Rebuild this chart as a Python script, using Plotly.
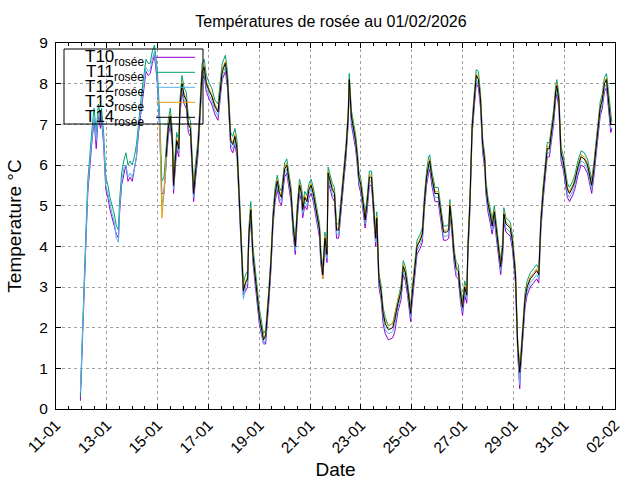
import pandas as pd
import plotly.graph_objects as go

# heures depuis le 11/01/2026 00:00
hours = [
    23, 25, 26, 28, 30, 32, 34, 36, 38, 40,
    42, 43, 45, 47, 49, 51, 53, 55, 57, 59,
    60, 62, 64, 66, 68, 70, 72, 74, 76, 78,
    79, 81, 83, 85, 87, 89, 91, 93, 95, 96,
    98, 100, 102, 104, 106, 108, 110, 111, 113, 114,
    116, 117, 119, 121, 123, 125, 127, 129, 130, 132,
    134, 136, 138, 140, 142, 145, 147, 150, 153, 155,
    157, 160, 162, 164, 165, 167, 169, 171, 173, 175,
    177, 179, 181, 182, 184, 186, 188, 190, 192, 194,
    196, 198, 199, 201, 203, 205, 207, 209, 211, 213,
    215, 216, 218, 220, 222, 224, 226, 228, 230, 232,
    233, 235, 237, 239, 241, 243, 245, 247, 249, 250,
    252, 254, 256, 257, 259, 261, 263, 265, 267, 268,
    270, 272, 274, 276, 277, 279, 281, 283, 285, 286,
    288, 290, 292, 294, 296, 298, 300, 302, 303, 305,
    307, 309, 311, 314, 318, 320, 323, 326, 328, 330,
    332, 335, 336, 338, 341, 344, 346, 348, 350, 352,
    353, 355, 358, 361, 364, 366, 369, 371, 372, 374,
    376, 378, 380, 382, 384, 386, 388, 389, 391, 393,
    395, 397, 399, 401, 403, 405, 406, 408, 410, 412,
    414, 416, 418, 420, 422, 423, 425, 427, 429, 431,
    433, 434, 436, 438, 439, 441, 443, 445, 448, 451,
    454, 456, 458, 460, 462, 464, 466, 468, 470, 472,
    473, 475, 477, 479, 481, 483, 485, 488, 490, 493,
    496, 499, 502, 505, 506, 508, 510, 512, 514, 516,
    518, 520, 522, 524, 525,
]

t10 = [
    0.2, 1.8, 2.8, 3.9, 5.3, 6.0, 6.6, 7.1, 6.4, 7.2,
    6.9, 7.1, 6.5, 5.4, 5.2, 4.9, 4.7, 4.5, 4.3, 4.2,
    4.8, 5.5, 5.8, 6.0, 5.6, 5.7, 5.6, 5.9, 6.2, 6.8,
    7.0, 7.5, 7.9, 8.3, 8.2, 8.25, 8.5, 8.7, 8.2, 7.9,
    6.8, 5.3, 5.3, 6.0, 6.7, 7.0, 6.4, 5.3, 6.2, 6.4,
    6.2, 7.2, 7.8, 7.5, 7.4, 6.8, 6.7, 5.8, 5.1, 5.7,
    6.2, 7.1, 8.1, 8.2, 7.8, 7.6, 7.5, 7.25, 7.1, 7.6,
    8.1, 8.3, 7.9, 6.9, 6.4, 6.3, 6.5, 6.2, 5.1, 3.8,
    2.8, 2.9, 3.0, 4.0, 4.7, 3.6, 3.0, 2.6, 2.1, 1.8,
    1.6, 1.6, 1.9, 2.6, 3.4, 4.5, 5.1, 5.4, 5.1, 5.0,
    5.5, 5.7, 5.8, 5.5, 5.1, 4.3, 3.8, 4.7, 5.3, 5.1,
    4.7, 5.0, 4.9, 5.2, 5.3, 5.1, 4.8, 4.5, 4.2, 3.6,
    3.2, 4.0, 3.6, 5.6, 5.4, 5.2, 5.1, 4.2, 4.2, 4.5,
    5.1, 5.5, 6.2, 7.0, 7.9, 7.0, 6.7, 6.4, 5.9, 5.5,
    5.3, 4.8, 4.45, 4.9, 5.5, 5.5, 4.6, 4.0, 4.5, 3.0,
    2.7, 2.1, 1.85, 1.7, 1.75, 1.9, 2.4, 2.7, 3.3, 3.15,
    2.8, 2.15, 2.5, 3.1, 3.8, 3.95, 4.1, 4.9, 5.5, 5.8,
    5.9, 5.5, 5.1, 5.1, 4.6, 4.15, 4.15, 4.2, 4.8, 4.3,
    3.6, 3.25, 3.2, 2.65, 2.3, 2.8, 2.6, 3.7, 4.9, 6.7,
    7.4, 8.0, 7.9, 7.4, 6.3, 5.9, 5.3, 4.85, 4.6, 4.3,
    4.65, 4.2, 3.8, 3.3, 3.8, 4.6, 4.35, 4.3, 4.25, 3.95,
    3.4, 3.1, 1.4, 0.5, 1.0, 1.9, 2.5, 2.8, 3.0, 3.1,
    3.2, 3.1, 4.4, 5.1, 5.75, 6.2, 6.2, 6.6, 7.0, 7.6,
    7.75, 7.4, 6.1, 5.9, 5.6, 5.2, 5.1, 5.25, 5.4, 5.75,
    6.0, 5.95, 5.8, 5.4, 5.3, 5.7, 6.2, 6.8, 7.2, 7.4,
    7.8, 7.9, 7.4, 6.8, 6.9,
]

t11 = [
    0.3, 2.0, 3.1, 4.2, 5.6, 6.3, 6.9, 7.4, 6.8, 7.5,
    7.2, 7.4, 6.8, 5.7, 5.5, 5.2, 5.0, 4.8, 4.5, 4.4,
    5.1, 5.8, 6.1, 6.3, 6.0, 6.1, 6.0, 6.2, 6.5, 7.1,
    7.3, 7.8, 8.2, 8.6, 8.5, 8.5, 8.8, 8.95, 8.5, 8.2,
    7.2, 5.6, 5.7, 6.4, 7.1, 7.4, 6.8, 5.7, 6.6, 6.8,
    6.6, 7.6, 8.2, 7.9, 7.8, 7.2, 7.1, 6.2, 5.5, 6.1,
    6.6, 7.5, 8.5, 8.6, 8.2, 8.0, 7.9, 7.6, 7.5, 8.0,
    8.5, 8.7, 8.3, 7.3, 6.8, 6.7, 6.9, 6.6, 5.5, 4.2,
    3.1, 3.3, 3.4, 4.4, 5.1, 4.0, 3.4, 3.0, 2.5, 2.2,
    1.85, 1.95, 2.25, 2.95, 3.75, 4.85, 5.45, 5.75, 5.45, 5.35,
    5.85, 6.05, 6.15, 5.85, 5.45, 4.65, 4.15, 5.05, 5.65, 5.45,
    5.05, 5.35, 5.25, 5.55, 5.65, 5.45, 5.15, 4.85, 4.55, 3.95,
    3.45, 4.35, 3.95, 5.95, 5.75, 5.55, 5.45, 4.55, 4.55, 4.85,
    5.45, 5.85, 6.55, 7.35, 8.25, 7.35, 7.05, 6.75, 6.25, 5.85,
    5.65, 5.15, 4.8, 5.25, 5.85, 5.85, 4.95, 4.35, 4.85, 3.35,
    3.05, 2.5, 2.25, 2.05, 2.1, 2.35, 2.75, 3.05, 3.65, 3.5,
    3.15, 2.5, 2.85, 3.45, 4.15, 4.3, 4.45, 5.25, 5.85, 6.2,
    6.25, 5.85, 5.45, 5.45, 4.95, 4.5, 4.5, 4.55, 5.15, 4.65,
    3.95, 3.6, 3.55, 3.0, 2.65, 3.15, 2.95, 4.05, 5.25, 7.05,
    7.75, 8.35, 8.3, 7.75, 6.65, 6.25, 5.65, 5.2, 4.95, 4.65,
    5.0, 4.55, 4.15, 3.65, 4.15, 4.95, 4.7, 4.65, 4.6, 4.3,
    3.75, 3.45, 1.75, 1.05, 1.35, 2.25, 2.85, 3.15, 3.35, 3.45,
    3.55, 3.45, 4.75, 5.45, 6.1, 6.55, 6.55, 6.95, 7.35, 7.95,
    8.1, 7.75, 6.45, 6.25, 5.95, 5.55, 5.45, 5.6, 5.75, 6.1,
    6.35, 6.3, 6.15, 5.75, 5.65, 6.05, 6.55, 7.15, 7.55, 7.75,
    8.15, 8.25, 7.75, 7.15, 7.05,
]

t12 = [
    0.4, 1.9, 2.9, 4.0, 5.4, 6.1, 6.7, 7.2, 6.6, 7.3,
    7.0, 7.2, 6.6, 5.5, 5.3, 5.0, 4.8, 4.6, 4.2, 4.1,
    4.9, 5.6, 5.9, 6.0, 5.7, 5.8, 5.7, 5.9, 6.2, 6.9,
    7.1, 7.6, 8.0, 8.4, 8.3, 8.35, 8.6, 8.8, 8.3, 8.0,
    6.9, 5.0, 5.4, 6.1, 6.8, 7.1, 6.5, 5.4, 6.3, 6.5,
    6.3, 7.3, 7.9, 7.6, 7.5, 6.9, 6.8, 5.9, 5.2, 5.8,
    6.3, 7.2, 8.2, 8.3, 7.9, 7.7, 7.6, 7.35, 7.2, 7.7,
    8.2, 8.4, 8.0, 7.0, 6.5, 6.4, 6.6, 6.3, 5.2, 3.9,
    2.7, 3.0, 3.1, 4.1, 4.8, 3.7, 3.1, 2.7, 2.2, 1.9,
    1.6, 1.7, 2.0, 2.7, 3.5, 4.6, 5.2, 5.5, 5.2, 5.1,
    5.6, 5.8, 5.9, 5.6, 5.2, 4.3, 3.9, 4.8, 5.4, 5.2,
    4.8, 5.1, 5.0, 5.3, 5.4, 5.2, 4.9, 4.6, 4.3, 3.7,
    3.3, 4.1, 3.7, 5.7, 5.5, 5.3, 5.2, 4.3, 4.3, 4.6,
    5.2, 5.6, 6.3, 7.1, 8.0, 7.1, 6.8, 6.5, 6.0, 5.6,
    5.4, 4.9, 4.55, 5.0, 5.6, 5.6, 4.7, 4.1, 4.6, 3.1,
    2.8, 2.25, 1.95, 1.85, 1.9, 2.1, 2.5, 2.8, 3.4, 3.25,
    2.9, 2.25, 2.6, 3.2, 3.9, 4.05, 4.2, 5.0, 5.6, 5.9,
    6.0, 5.6, 5.2, 5.2, 4.7, 4.25, 4.25, 4.3, 4.9, 4.4,
    3.7, 3.35, 3.3, 2.75, 2.4, 2.9, 2.7, 3.8, 5.0, 6.8,
    7.5, 8.1, 8.0, 7.5, 6.4, 6.0, 5.4, 4.95, 4.7, 4.4,
    4.75, 4.3, 3.9, 3.4, 3.9, 4.7, 4.45, 4.4, 4.35, 4.05,
    3.5, 3.2, 1.5, 0.6, 1.1, 2.0, 2.6, 2.9, 3.1, 3.2,
    3.3, 3.2, 4.5, 5.2, 5.85, 6.3, 6.3, 6.7, 7.1, 7.7,
    7.85, 7.5, 6.2, 6.0, 5.7, 5.3, 5.2, 5.35, 5.5, 5.85,
    6.1, 6.05, 5.9, 5.5, 5.4, 5.8, 6.3, 6.9, 7.3, 7.5,
    7.9, 8.0, 7.5, 6.9, 6.9,
]

t13 = [None] * 40 + [
    7.0, 4.7, 5.3, 6.25, 6.95, 7.25, 6.65, 5.5, 6.45, 6.65,
    6.45, 7.45, 8.05, 7.75, 7.65, 7.05, 6.95, 6.05, 5.35, 5.95,
    6.45, 7.35, 8.35, 8.45, 8.05, 7.85, 7.75, 7.5, 7.35, 7.85,
    8.35, 8.55, 8.15, 7.15, 6.65, 6.55, 6.75, 6.45, 5.35, 4.05,
    2.95, 3.15, 3.25, 4.25, 4.95, 3.85, 3.25, 2.85, 2.35, 2.05,
    1.75, 1.85, 2.15, 2.85, 3.65, 4.75, 5.35, 5.65, 5.35, 5.25,
    5.75, 5.95, 6.05, 5.75, 5.35, 4.55, 4.05, 4.95, 5.55, 5.35,
    4.95, 5.25, 5.15, 5.45, 5.55, 5.35, 5.05, 4.75, 4.45, 3.85,
    3.2, 4.25, 3.85, 5.85, 5.65, 5.45, 5.35, 4.45, 4.45, 4.75,
    5.35, 5.75, 6.45, 7.25, 8.1, 7.25, 6.95, 6.65, 6.15, 5.75,
    5.55, 5.05, 4.7, 5.15, 5.75, 5.75, 4.85, 4.25, 4.75, 3.25,
    2.95, 2.4, 2.15, 2.05, 2.1, 2.3, 2.7, 2.95, 3.55, 3.4,
    3.05, 2.4, 2.75, 3.35, 4.05, 4.2, 4.35, 5.15, 5.75, 6.05,
    6.15, 5.75, 5.35, 5.35, 4.85, 4.4, 4.4, 4.45, 5.05, 4.55,
    3.85, 3.5, 3.45, 2.9, 2.55, 3.05, 2.85, 3.95, 5.15, 6.95,
    7.65, 8.25, 8.15, 7.65, 6.55, 6.15, 5.55, 5.1, 4.85, 4.55,
    4.9, 4.45, 4.05, 3.55, 4.05, 4.85, 4.6, 4.55, 4.5, 4.2,
    3.65, 3.35, 1.65, 0.95, 1.25, 2.15, 2.75, 3.05, 3.25, 3.35,
    3.45, 3.35, 4.65, 5.35, 6.0, 6.45, 6.45, 6.85, 7.25, 7.85,
    8.0, 7.65, 6.35, 6.15, 5.85, 5.45, 5.35, 5.5, 5.65, 6.0,
    6.25, 6.2, 6.05, 5.65, 5.55, 5.95, 6.45, 7.05, 7.45, 7.65,
    8.05, 8.15, 7.65, 7.05, 7.0,
]

t14 = [None] * 43 + [
    6.2, 6.9, 7.2, 6.6, 5.5, 6.4, 6.6,
    6.4, 7.4, 8.0, 7.7, 7.6, 7.0, 6.9, 6.0, 5.3, 5.9,
    6.4, 7.3, 8.3, 8.4, 8.0, 7.8, 7.7, 7.45, 7.3, 7.8,
    8.3, 8.5, 8.1, 7.1, 6.6, 6.5, 6.7, 6.4, 5.3, 4.0,
    2.9, 3.1, 3.2, 4.2, 4.9, 3.8, 3.2, 2.8, 2.3, 2.0,
    1.7, 1.8, 2.1, 2.8, 3.6, 4.7, 5.3, 5.6, 5.3, 5.2,
    5.7, 5.9, 6.0, 5.7, 5.3, 4.5, 4.0, 4.9, 5.5, 5.3,
    4.9, 5.2, 5.1, 5.4, 5.5, 5.3, 5.0, 4.7, 4.4, 3.8,
    3.3, 4.2, 3.8, 5.8, 5.6, 5.4, 5.3, 4.4, 4.4, 4.7,
    5.3, 5.7, 6.4, 7.2, 8.1, 7.2, 6.9, 6.6, 6.1, 5.7,
    5.5, 5.0, 4.65, 5.1, 5.7, 5.7, 4.8, 4.2, 4.7, 3.2,
    2.9, 2.35, 2.1, 1.95, 2.0, 2.2, 2.6, 2.9, 3.5, 3.35,
    3.0, 2.35, 2.7, 3.3, 4.0, 4.15, 4.3, 5.1, 5.7, 6.0,
    6.1, 5.7, 5.3, 5.3, 4.8, 4.35, 4.35, 4.4, 5.0, 4.5,
    3.8, 3.45, 3.4, 2.85, 2.5, 3.0, 2.8, 3.9, 5.1, 6.9,
    7.6, 8.2, 8.1, 7.6, 6.5, 6.1, 5.5, 5.05, 4.8, 4.5,
    4.85, 4.4, 4.0, 3.5, 4.0, 4.8, 4.55, 4.5, 4.45, 4.15,
    3.6, 3.3, 1.6, 0.9, 1.2, 2.1, 2.7, 3.0, 3.2, 3.3,
    3.4, 3.3, 4.6, 5.3, 5.95, 6.4, 6.4, 6.8, 7.2, 7.8,
    7.95, 7.6, 6.3, 6.1, 5.8, 5.4, 5.3, 5.45, 5.6, 5.95,
    6.2, 6.15, 6.0, 5.6, 5.5, 5.9, 6.4, 7.0, 7.4, 7.6,
    8.0, 8.1, 7.6, 7.0, 7.0,
]

names = ["T10", "T11", "T12", "T13", "T14"]
colors = ["#9400d3", "#009e73", "#56b4e9", "#e69f00", "#000000"]
series = [t10, t11, t12, t13, t14]

times = pd.Timestamp("2026-01-11") + pd.to_timedelta(hours, unit="h")

FONT = "Liberation Sans, Arial, sans-serif"

fig = go.Figure()
for name, col, vals in zip(names, colors, series):
    fig.add_trace(go.Scatter(
        x=times, y=vals, mode="lines", name=name + " rosée",
        line=dict(color=col, width=1), connectgaps=False,
    ))

# légende façon gnuplot : texte à gauche, trait à droite
x0, x1 = 56, 615
y0, y1 = 43, 409
def px(x):
    return (x - x0) / (x1 - x0)
def py(y):
    return (y1 - y) / (y1 - y0)

fig.add_shape(type="rect", xref="paper", yref="paper",
              x0=px(64), x1=px(203), y0=py(124), y1=py(49),
              line=dict(color="black", width=1))
for i, (name, col) in enumerate(zip(names, colors)):
    ry = 57.3 + 15 * i
    fig.add_annotation(xref="paper", yref="paper", x=px(146), y=py(ry + 1),
                       xanchor="right", yanchor="middle", showarrow=False,
                       text=name + "<sub>rosée</sub>",
                       font=dict(family=FONT, size=17, color="black"))
    fig.add_shape(type="line", xref="paper", yref="paper",
                  x0=px(156), x1=px(195), y0=py(ry), y1=py(ry),
                  line=dict(color=col, width=1))

fig.update_layout(
    width=640, height=480,
    margin=dict(l=x0, r=640 - x1, t=y0, b=480 - y1),
    paper_bgcolor="white", plot_bgcolor="white",
    showlegend=False,
    font=dict(family=FONT, size=15.5, color="black"),
    title=dict(text="Températures de rosée au 01/02/2026", x=331 / 640,
               xanchor="center", y=1 - 21 / 480, yanchor="middle",
               font=dict(family=FONT, size=16)),
)
fig.update_xaxes(
    range=["2026-01-11", "2026-02-02"],
    tick0="2026-01-11", dtick=2 * 86400000, tickformat="%d-%m",
    tickangle=-45, ticks="inside", ticklen=5, tickcolor="black",
    showline=True, linecolor="black", linewidth=1, mirror="ticks",
    showgrid=True, gridcolor="#a0a0a0", griddash="dot", gridwidth=1,
    minor=dict(ticks="inside", ticklen=3, dtick=12 * 3600000,
               tickcolor="black", showgrid=False),
    title=dict(text="Date", standoff=8),
    automargin=False,
    zeroline=False,
)
fig.update_yaxes(
    range=[0, 9], dtick=1, ticks="inside", ticklen=5, tickcolor="black",
    showline=True, linecolor="black", linewidth=1, mirror="ticks",
    showgrid=True, gridcolor="#a0a0a0", griddash="dot", gridwidth=1,
    title=dict(text="Temperature °C", standoff=12),
    ticklabelstandoff=4,
    automargin=False,
    zeroline=False,
)

# pas de marge autour du graphique dans la page, pas de barre d'outils
fig.write_html("out.html", config={"displayModeBar": False},
               post_script="document.body.style.margin='0';")
